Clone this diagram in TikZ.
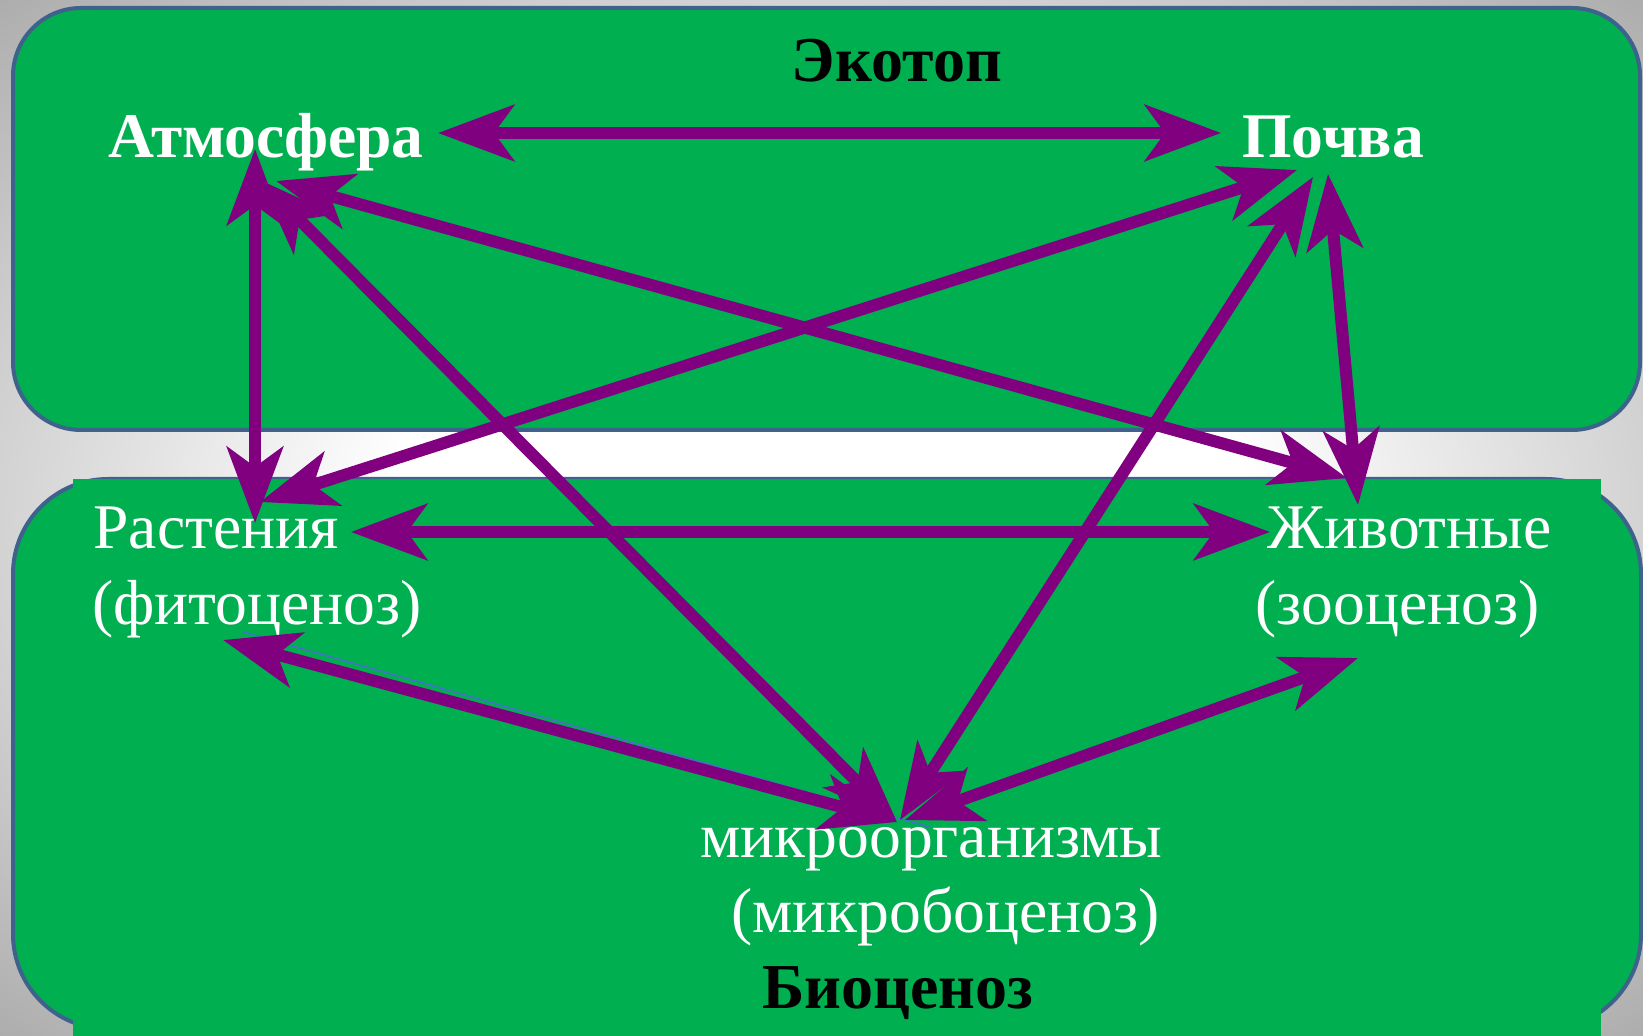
\documentclass[tikz,border=0pt]{standalone}
\usepackage{fontspec}
\setmainfont{Liberation Serif}
\usetikzlibrary{arrows.meta}
\definecolor{boxgreen}{RGB}{0,175,80}
\definecolor{boxline}{RGB}{63,98,140}
\definecolor{arr}{RGB}{128,0,128}
\definecolor{thinblue}{RGB}{68,114,196}
\pgfdeclareradialshading{bgshade}{\pgfpoint{0bp}{0bp}}{color(0bp)=(white); color(13bp)=(white); color(38bp)=(gray!72); color(50bp)=(gray!60)}
\tikzset{
  tipS/.tip={Stealth[length=38pt,width=28pt,inset=10pt]},
  conn/.style={draw=arr, line width=6pt, tipS-tipS},
  greenbox/.style={fill=boxgreen, draw=boxline, line width=2pt},
  wlbl/.style={text=white, font=\fontsize{31.8}{38}\selectfont, inner sep=0pt, anchor=base west},
  wbold/.style={text=white, font=\fontsize{31.8}{38}\selectfont\bfseries, inner sep=0pt, anchor=base west},
  kbold/.style={text=black, font=\fontsize{32}{38}\selectfont\bfseries, inner sep=0pt, anchor=base},
}
\begin{document}
\begin{tikzpicture}[x=0.5pt,y=-0.5pt]
\useasboundingbox (0,0) rectangle (1643,1036);
\shade[shading=bgshade] (0,0) rectangle (1643,1036);
% boxes
\draw[greenbox, rounded corners=34pt] (13,8) rectangle (1640,430);
\draw[greenbox, rounded corners=47.5pt] (13,479) rectangle (1641,1029);
\fill[boxgreen] (73,479) rectangle (1601,1036);
% labels
\node[kbold] (ekotop) at (897,82) {Экотоп};
\node[wbold] (atm) at (108,158) {Атмосфера};
\node[wbold] (pochva) at (1242,158) {Почва};
\node[wlbl] (rast) at (93,549) {Растения};
\node[wlbl] (fito) at (92,625) {(фитоценоз)};
\node[wlbl] (zhiv) at (1267,549) {Животные};
\node[wlbl] (zoo) at (1255,625) {(зооценоз)};
\node[wlbl] (mikro) at (700,857) {микроорганизмы};
\node[wlbl] (mikrob) at (731,932) {(микробоценоз)};
\node[kbold] (bio) at (898,1008) {Биоценоз};
% connector end points
\coordinate (atmE) at (438,133);
\coordinate (atmS) at (255,149);
\coordinate (atmSE) at (276,181);
\coordinate (atmM) at (260,180);
\coordinate (poW) at (1221,133);
\coordinate (poR) at (1297,170);
\coordinate (poM) at (1313,177);
\coordinate (poZ) at (1328,174);
\coordinate (raN) at (255,523);
\coordinate (raP) at (260,502);
\coordinate (raE) at (351,532);
\coordinate (fiM) at (223,640);
\coordinate (zhA) at (1347,478);
\coordinate (zhP) at (1358,505);
\coordinate (zhW) at (1270,532);
\coordinate (zoM) at (1358,658);
\coordinate (miF) at (897,822);
\coordinate (miA) at (897,822);
\coordinate (miP) at (900,820);
\coordinate (miZ) at (905,820);
\coordinate (blA) at (243,632);
\coordinate (blB) at (930,827);
% connectors
\draw[thinblue, line width=0.8pt] (blA) -- (blB);
\draw[conn] (atmE) -- (poW);
\draw[conn] (atmS) -- (raN);
\draw[conn] (atmSE) -- (zhA);
\draw[conn] (atmM) -- (miA);
\draw[conn] (poR) -- (raP);
\draw[conn] (poM) -- (miP);
\draw[conn] (poZ) -- (zhP);
\draw[conn] (raE) -- (zhW);
\draw[conn] (fiM) -- (miF);
\draw[conn] (zoM) -- (miZ);
\end{tikzpicture}
\end{document}
